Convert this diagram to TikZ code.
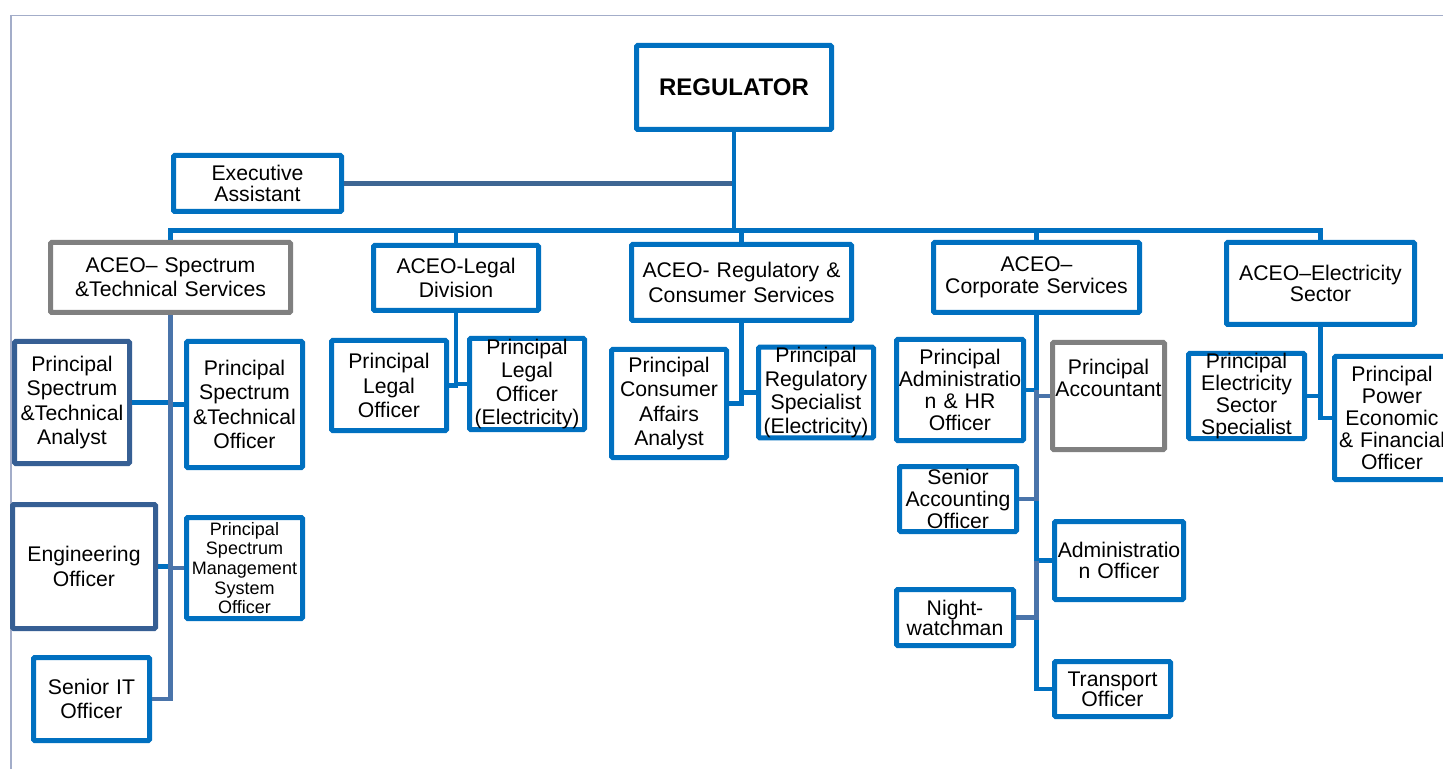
\documentclass[tikz,border=0pt]{standalone}
\usepackage{fontspec}
\setmainfont{Liberation Sans}
\usetikzlibrary{positioning,calc}

\definecolor{boxblue}{HTML}{0070C0}
\definecolor{boxdark}{HTML}{365F94}
\definecolor{boxgrey}{HTML}{808080}
\definecolor{linkslate}{HTML}{4A74AA}
\definecolor{linkdark}{HTML}{3E6693}
\definecolor{framecol}{HTML}{A3ADC9}

\begin{document}
\begin{tikzpicture}[x=0.5pt, y=-0.5pt, inner xsep=1pt, inner ysep=0pt]

\tikzstyle{box}=[draw=boxblue, line width=2.5pt, fill=white, align=center, rounded corners=0.6pt, font=\fontsize{10.6}{12.2}\selectfont]
\tikzstyle{greybox}=[box, draw=boxgrey]
\tikzstyle{darkbox}=[box, draw=boxdark]
\tikzstyle{tight}=[font=\fontsize{10.6}{10.9}\selectfont]
\tikzstyle{link}=[draw=boxblue, line width=2.3pt]
\tikzstyle{slink}=[draw=linkslate, line width=2.3pt]
\tikzstyle{dlink}=[draw=linkdark, line width=2.5pt]

\fill[white] (0,0) rectangle (1443,769);
\useasboundingbox (0,0) rectangle (1443,769);
\draw[framecol, line width=0.8pt] (10,15.5) -- (1443,15.5);
\draw[framecol, line width=0.8pt] (11,15) -- (11,769);

\node[box, font=\fontsize{12}{14}\selectfont\bfseries, text width=95.5pt, minimum height=42pt] (reg) at (734,87.5) {REGULATOR};
\node[box, font=\fontsize{10.6}{10.4}\selectfont, text width=82pt, minimum height=28pt] (ea) at (257.5,183.5) {Executive\\Assistant};

\node[greybox, text width=118pt, minimum height=35pt] (spec) at (170.5,277.5) {ACEO-- Spectrum\\\&Technical Services};
\node[box, text width=80.5pt, minimum height=32.5pt] (legal) at (456,278) {ACEO-Legal\\Division};
\node[box, text width=108pt, minimum height=38pt] (regcon) at (741.5,282.5) {ACEO- Regulatory \&\\Consumer Services};
\node[box, tight, text width=101pt, minimum height=35pt] (corp) at (1036.5,277.5) {ACEO--\\Corporate Services};
\node[box, tight, text width=92pt, minimum height=41pt] (elec) at (1320.5,283.5) {ACEO--Electricity\\Sector};

\node[darkbox, text width=55.5pt, minimum height=61pt] (psta) at (72,402.5) {Principal\\Spectrum\\\&Technical\\Analyst};
\node[box, text width=56pt, minimum height=63pt] (psto) at (244.5,404.5) {Principal\\Spectrum\\\&Technical\\Officer};
\node[darkbox, text width=69.5pt, minimum height=62pt] (eng) at (84,566.5) {Engineering\\Officer};
\node[box, font=\fontsize{9}{9.8}\selectfont, text width=56pt, minimum height=50.5pt] (psmso) at (244.5,568) {Principal\\Spectrum\\Management\\System\\Officer};
\node[box, text width=56pt, minimum height=41.5pt] (sit) at (91.5,699) {Senior IT\\Officer};

\node[box, text width=55.5pt, minimum height=45pt] (plo) at (389,385.5) {Principal\\Legal\\Officer};
\node[box, font=\fontsize{10.6}{11.8}\selectfont, text width=55.5pt, minimum height=45.5pt] (ploe) at (527,384) {Principal\\Legal\\Officer\\(Electricity)};

\node[box, text width=55.5pt, minimum height=54pt] (pcaa) at (669,403.5) {Principal\\Consumer\\Affairs\\Analyst};
\node[box, font=\fontsize{10.6}{11.8}\selectfont, text width=55.5pt, minimum height=45pt] (prse) at (816,392.5) {Principal\\Regulatory\\Specialist\\(Electricity)};

\node[box, tight, text width=61.5pt, minimum height=50.5pt] (pahr) at (960,390) {Principal\\Administratio\\n \& HR\\Officer};
\node[greybox, tight, text width=54pt, minimum height=53.5pt] (pacc) at (1108.5,396) {Principal\\Accountant\\[7pt]\mbox{}};
\node[box, tight, text width=56.5pt, minimum height=32.5pt] (sao) at (958,499) {Senior\\Accounting\\Officer};
\node[box, tight, text width=62.5pt, minimum height=39pt] (admo) at (1119,560.5) {Administratio\\n Officer};
\node[box, font=\fontsize{10.6}{10}\selectfont, text width=56.5pt, minimum height=28pt] (nw) at (955,617.5) {Night-\\watchman};
\node[box, font=\fontsize{10.6}{10}\selectfont, text width=56pt, minimum height=27.5pt] (trans) at (1112.5,689) {Transport\\Officer};

\node[box, tight, text width=56pt, minimum height=41.5pt] (pese) at (1246.5,396) {Principal\\Electricity\\Sector\\Specialist};
\node[box, tight, text width=55.5pt, minimum height=61.5pt] (ppef) at (1392,418) {Principal\\Power\\Economic\\\& Financial\\Officer};

\coordinate (bus) at (734,230.5);
\draw[dlink] (ea.east) -- (ea.east -| reg.south);
\draw[link] (reg.south) -- (reg.south |- bus);
\draw[link] (spec.north) |- (bus) -| (elec.north);
\draw[link] (legal.north) -- (legal.north |- bus);
\draw[link] (regcon.north) -- (regcon.north |- bus);
\draw[link] (corp.north) -- (corp.north |- bus);

\draw[link] (psta.east) -- (psta.east -| spec.south);
\draw[link] (psto.west) -- (psto.west -| spec.south);
\draw[link] (eng.east) -- (eng.east -| spec.south);
\draw[slink] (psmso.west) -- (psmso.west -| spec.south);
\draw[slink] (spec.south) |- (sit.east);

\draw[link] (legal.south) |- (plo.east);
\draw[link] (ploe.west) -- (ploe.west -| legal.south);

\draw[link] (regcon.south) |- (pcaa.east);
\draw[link] (prse.west) -- (prse.west -| regcon.south);

\draw[link] (corp.south) |- (trans.west);
\draw[link] (pahr.east) -- (pahr.east -| corp.south);
\draw[link] (admo.west) -- (admo.west -| corp.south);
\draw[slink] (sao.east) -| (corp.south |- pahr.east);
\draw[slink] (nw.east) -| (corp.south |- admo.west);
\draw[slink] (pacc.west) -- (pacc.west -| corp.south);

\draw[link] (elec.south) |- (ppef.west);
\draw[link] (pese.east) -- (pese.east -| elec.south);

\end{tikzpicture}
\end{document}
